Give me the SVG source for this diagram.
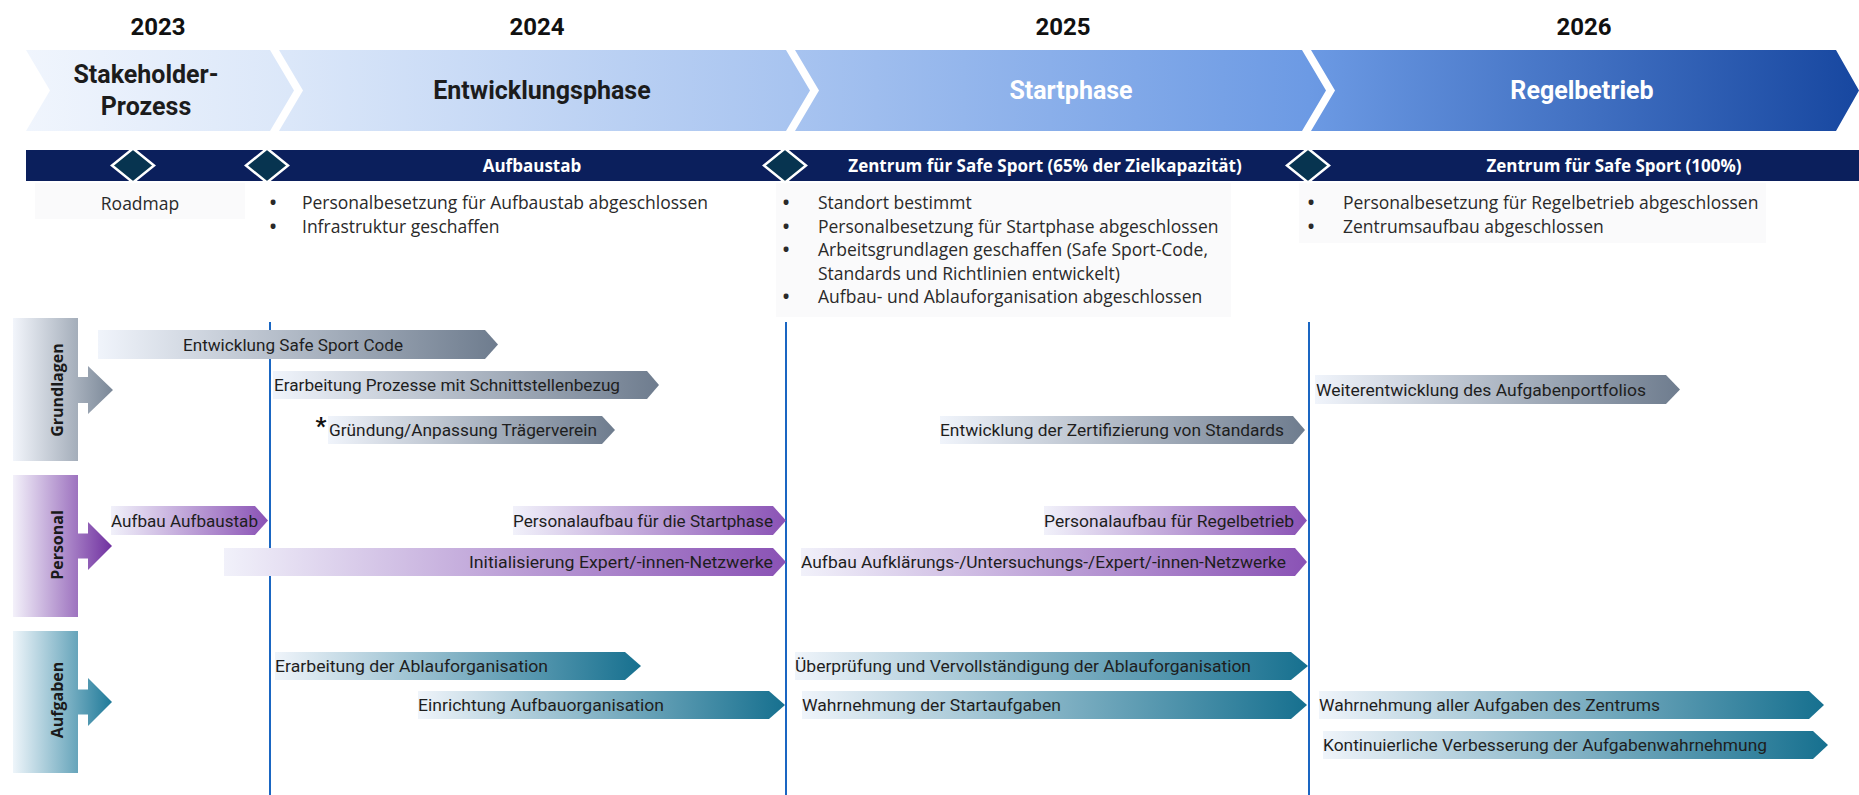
<svg xmlns="http://www.w3.org/2000/svg" width="1859" height="795" viewBox="0 0 1859 795">
<defs>
  <linearGradient id="gBand" gradientUnits="userSpaceOnUse" x1="26" y1="0" x2="1859" y2="0">
    <stop offset="0" stop-color="#f0f5fd"/>
    <stop offset="0.144" stop-color="#dbe7f9"/>
    <stop offset="0.417" stop-color="#a8c4f0"/>
    <stop offset="0.70" stop-color="#6c9ae4"/>
    <stop offset="1" stop-color="#1747a0"/>
  </linearGradient>
  <linearGradient id="gGray" x1="0" y1="0" x2="1" y2="0">
    <stop offset="0" stop-color="#f0f4fb"/>
    <stop offset="1" stop-color="#6e7c8e"/>
  </linearGradient>
  <linearGradient id="gPurple" x1="0" y1="0" x2="1" y2="0">
    <stop offset="0" stop-color="#f1f1fa"/>
    <stop offset="1" stop-color="#8a52b5"/>
  </linearGradient>
  <linearGradient id="gTeal" x1="0" y1="0" x2="1" y2="0">
    <stop offset="0" stop-color="#eff4fa"/>
    <stop offset="1" stop-color="#16708f"/>
  </linearGradient>
  <linearGradient id="pGray" gradientUnits="userSpaceOnUse" x1="13" y1="0" x2="112" y2="0">
    <stop offset="0" stop-color="#f2f5fb"/>
    <stop offset="1" stop-color="#7b8898"/>
  </linearGradient>
  <linearGradient id="pPurple" gradientUnits="userSpaceOnUse" x1="13" y1="0" x2="112" y2="0">
    <stop offset="0" stop-color="#f3f1fa"/>
    <stop offset="1" stop-color="#7030a0"/>
  </linearGradient>
  <linearGradient id="pTeal" gradientUnits="userSpaceOnUse" x1="13" y1="0" x2="112" y2="0">
    <stop offset="0" stop-color="#eef5fa"/>
    <stop offset="1" stop-color="#1f7a99"/>
  </linearGradient>
</defs>
<style>
  .yr { font-family: Roboto, "Liberation Sans", sans-serif; font-weight: 700; font-size: 24px; fill: #111; text-anchor: middle; }
  .ph { font-family: Roboto, "Liberation Sans", sans-serif; font-weight: 700; font-size: 25px; text-anchor: middle; }
  .dark { fill: #1c1c1c; }
  .light { fill: #ffffff; }
  .bar { font-family: "Open Sans", "Liberation Sans", sans-serif; font-weight: 700; font-size: 17px; fill: #ffffff; text-anchor: middle; }
  .ms { font-family: "Open Sans", "Liberation Sans", sans-serif; font-size: 17.5px; fill: #2a2a2a; }
  .bul { font-family: "Open Sans", "Liberation Sans", sans-serif; font-size: 17.5px; font-weight: 700; fill: #2a2a2a; text-anchor: middle; }
  .task { font-family: Roboto, "Liberation Sans", sans-serif; font-size: 17px; fill: #1e1e1e; }
  .cat { font-family: "Open Sans", "Liberation Sans", sans-serif; font-weight: 700; font-size: 16px; fill: #1a1a1a; text-anchor: middle; }
  .vline { stroke: #1a66c2; stroke-width: 2; fill: none; }
  .dia { fill: #073450; stroke: #ffffff; stroke-width: 2.5; }
  .msbox { fill: #fafafb; }
</style>
<rect width="1859" height="795" fill="#ffffff"/>

<g id="years">
  <text class="yr" x="158" y="35">2023</text>
  <text class="yr" x="537" y="35">2024</text>
  <text class="yr" x="1063" y="35">2025</text>
  <text class="yr" x="1584" y="35">2026</text>
</g>

<g id="phase-stakeholder">
  <path d="M26,50 L270,50 L294,90.5 L270,131 L26,131 L50,90.5 Z" fill="url(#gBand)"/>
  <text class="ph dark" x="146" y="83">Stakeholder-</text>
  <text class="ph dark" x="146" y="115">Prozess</text>
</g>
<g id="phase-entwicklung">
  <path d="M279,50 L786,50 L810,90.5 L786,131 L279,131 L303,90.5 Z" fill="url(#gBand)"/>
  <text class="ph dark" x="542" y="99">Entwicklungsphase</text>
</g>
<g id="phase-start">
  <path d="M795,50 L1302,50 L1326,90.5 L1302,131 L795,131 L819,90.5 Z" fill="url(#gBand)"/>
  <text class="ph light" x="1071" y="99">Startphase</text>
</g>
<g id="phase-regel">
  <path d="M1311,50 L1836,50 L1859,90.5 L1836,131 L1311,131 L1335,90.5 Z" fill="url(#gBand)"/>
  <text class="ph light" x="1582" y="99">Regelbetrieb</text>
</g>

<g id="milestone-bar">
  <rect x="26" y="150" width="1833" height="31" fill="#0b1f5c"/>
  <text class="bar" x="532" y="172">Aufbaustab</text>
  <text class="bar" x="1045" y="172">Zentrum für Safe Sport (65% der Zielkapazität)</text>
  <text class="bar" x="1614" y="172">Zentrum für Safe Sport (100%)</text>
</g>

<g id="milestone-roadmap">
  <rect class="msbox" x="35" y="183" width="210" height="36"/>
  <path class="dia" d="M133,148.5 L154,165.5 L133,182.5 L112,165.5 Z"/>
  <text class="ms" x="140" y="210" text-anchor="middle">Roadmap</text>
</g>
<g id="milestone-aufbaustab">
  <path class="dia" d="M267,148.5 L288,165.5 L267,182.5 L246,165.5 Z"/>
  <text class="bul" x="273" y="209">•</text>
  <text class="ms" x="302" y="209">Personalbesetzung für Aufbaustab abgeschlossen</text>
  <text class="bul" x="273" y="232.5">•</text>
  <text class="ms" x="302" y="232.5">Infrastruktur geschaffen</text>
</g>
<g id="milestone-start">
  <rect class="msbox" x="776" y="183" width="455" height="134"/>
  <path class="dia" d="M785,148.5 L806,165.5 L785,182.5 L764,165.5 Z"/>
  <text class="bul" x="786" y="209">•</text>
  <text class="ms" x="818" y="209">Standort bestimmt</text>
  <text class="bul" x="786" y="232.5">•</text>
  <text class="ms" x="818" y="232.5">Personalbesetzung für Startphase abgeschlossen</text>
  <text class="bul" x="786" y="256">•</text>
  <text class="ms" x="818" y="256">Arbeitsgrundlagen geschaffen (Safe Sport-Code,</text>
  <text class="ms" x="818" y="279.5">Standards und Richtlinien entwickelt)</text>
  <text class="bul" x="786" y="303">•</text>
  <text class="ms" x="818" y="303">Aufbau- und Ablauforganisation abgeschlossen</text>
</g>
<g id="milestone-regel">
  <rect class="msbox" x="1299" y="183" width="467" height="60"/>
  <path class="dia" d="M1308,148.5 L1329,165.5 L1308,182.5 L1287,165.5 Z"/>
  <text class="bul" x="1311" y="209">•</text>
  <text class="ms" x="1343" y="209">Personalbesetzung für Regelbetrieb abgeschlossen</text>
  <text class="bul" x="1311" y="232.5">•</text>
  <text class="ms" x="1343" y="232.5">Zentrumsaufbau abgeschlossen</text>
</g>

<g id="connectors">
  <line class="vline" x1="270" y1="322" x2="270" y2="795"/>
  <line class="vline" x1="786" y1="322" x2="786" y2="795"/>
  <line class="vline" x1="1309" y1="322" x2="1309" y2="795"/>
</g>

<g id="cat-grundlagen">
  <path d="M13,318 L78,318 L78,377 L88,377 L88,366 L113,390 L88,414 L88,403 L78,403 L78,461 L13,461 Z" fill="url(#pGray)"/>
  <text class="cat" transform="translate(57,390) rotate(-90)" y="5.7">Grundlagen</text>
</g>
<g id="cat-personal">
  <path d="M13,475 L78,475 L78,533.5 L88,533.5 L88,522 L112,546 L88,570 L88,558.5 L78,558.5 L78,617 L13,617 Z" fill="url(#pPurple)"/>
  <text class="cat" transform="translate(57,545) rotate(-90)" y="5.7">Personal</text>
</g>
<g id="cat-aufgaben">
  <path d="M13,631 L78,631 L78,689.5 L88,689.5 L88,678 L112,702 L88,726 L88,714.5 L78,714.5 L78,773 L13,773 Z" fill="url(#pTeal)"/>
  <text class="cat" transform="translate(57,700) rotate(-90)" y="5.7">Aufgaben</text>
</g>

<g id="task-safe-sport-code">
  <path d="M98,330 L485,330 L498,344.5 L485,359 L98,359 Z" fill="url(#gGray)"/>
  <text class="task" x="183" y="351" textLength="220" lengthAdjust="spacingAndGlyphs">Entwicklung Safe Sport Code</text>
</g>
<g id="task-prozesse">
  <path d="M273,371 L647,371 L659,385 L647,399 L273,399 Z" fill="url(#gGray)"/>
  <text class="task" x="274" y="391" textLength="346" lengthAdjust="spacingAndGlyphs">Erarbeitung Prozesse mit Schnittstellenbezug</text>
</g>
<g id="task-traegerverein">
  <path d="M328,416 L602,416 L615,430 L602,444 L328,444 Z" fill="url(#gGray)"/>
  <text x="321" y="434" font-family="Roboto, 'Liberation Sans', sans-serif" font-size="24" font-weight="700" fill="#111" text-anchor="middle">*</text>
  <text class="task" x="329" y="436" textLength="268" lengthAdjust="spacingAndGlyphs">Gründung/Anpassung Trägerverein</text>
</g>
<g id="task-zertifizierung">
  <path d="M940,416 L1293,416 L1305,430 L1293,444 L940,444 Z" fill="url(#gGray)"/>
  <text class="task" x="940" y="436" textLength="344" lengthAdjust="spacingAndGlyphs">Entwicklung der Zertifizierung von Standards</text>
</g>
<g id="task-portfolio">
  <path d="M1315,375 L1666,375 L1680,389.5 L1666,404 L1315,404 Z" fill="url(#gGray)"/>
  <text class="task" x="1316" y="396" textLength="330" lengthAdjust="spacingAndGlyphs">Weiterentwicklung des Aufgabenportfolios</text>
</g>

<g id="task-aufbau-aufbaustab">
  <path d="M111,506 L255,506 L268,520.5 L255,535 L111,535 Z" fill="url(#gPurple)"/>
  <text class="task" x="111" y="527" textLength="147" lengthAdjust="spacingAndGlyphs">Aufbau Aufbaustab</text>
</g>
<g id="task-personal-start">
  <path d="M513,506 L773,506 L786,520.5 L773,535 L513,535 Z" fill="url(#gPurple)"/>
  <text class="task" x="513" y="527" textLength="260" lengthAdjust="spacingAndGlyphs">Personalaufbau für die Startphase</text>
</g>
<g id="task-netzwerke-init">
  <path d="M224,548 L773,548 L786,562 L773,576 L224,576 Z" fill="url(#gPurple)"/>
  <text class="task" x="469" y="568" textLength="304" lengthAdjust="spacingAndGlyphs">Initialisierung Expert/-innen-Netzwerke</text>
</g>
<g id="task-personal-regel">
  <path d="M1044,506 L1295,506 L1307,520.5 L1295,535 L1044,535 Z" fill="url(#gPurple)"/>
  <text class="task" x="1044" y="527" textLength="250" lengthAdjust="spacingAndGlyphs">Personalaufbau für Regelbetrieb</text>
</g>
<g id="task-netzwerke-aufbau">
  <path d="M801,548 L1295,548 L1307,562 L1295,576 L801,576 Z" fill="url(#gPurple)"/>
  <text class="task" x="801" y="568" textLength="485" lengthAdjust="spacingAndGlyphs">Aufbau Aufklärungs-/Untersuchungs-/Expert/-innen-Netzwerke</text>
</g>

<g id="task-ablauf">
  <path d="M275,652 L625,652 L641,666 L625,680 L275,680 Z" fill="url(#gTeal)"/>
  <text class="task" x="275" y="672" textLength="273" lengthAdjust="spacingAndGlyphs">Erarbeitung der Ablauforganisation</text>
</g>
<g id="task-aufbauorg">
  <path d="M418,691 L769,691 L785,705 L769,719 L418,719 Z" fill="url(#gTeal)"/>
  <text class="task" x="418" y="711" textLength="246" lengthAdjust="spacingAndGlyphs">Einrichtung Aufbauorganisation</text>
</g>
<g id="task-ueberpruefung">
  <path d="M795,652 L1291,652 L1308,666 L1291,680 L795,680 Z" fill="url(#gTeal)"/>
  <text class="task" x="795" y="672" textLength="456" lengthAdjust="spacingAndGlyphs">Überprüfung und Vervollständigung der Ablauforganisation</text>
</g>
<g id="task-startaufgaben">
  <path d="M802,691 L1291,691 L1307,705 L1291,719 L802,719 Z" fill="url(#gTeal)"/>
  <text class="task" x="802" y="711" textLength="259" lengthAdjust="spacingAndGlyphs">Wahrnehmung der Startaufgaben</text>
</g>
<g id="task-alle-aufgaben">
  <path d="M1319,691 L1809,691 L1824,705 L1809,719 L1319,719 Z" fill="url(#gTeal)"/>
  <text class="task" x="1319" y="711" textLength="341" lengthAdjust="spacingAndGlyphs">Wahrnehmung aller Aufgaben des Zentrums</text>
</g>
<g id="task-verbesserung">
  <path d="M1323,731 L1813,731 L1828,745 L1813,759 L1323,759 Z" fill="url(#gTeal)"/>
  <text class="task" x="1323" y="751" textLength="444" lengthAdjust="spacingAndGlyphs">Kontinuierliche Verbesserung der Aufgabenwahrnehmung</text>
</g>
</svg>
